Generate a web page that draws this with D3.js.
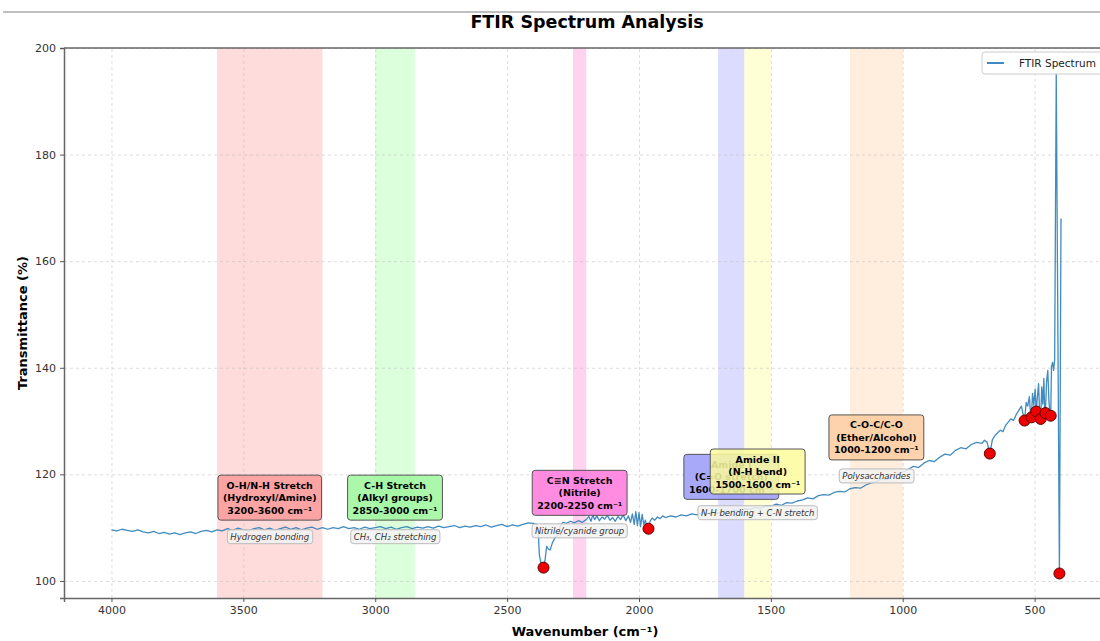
<!DOCTYPE html>
<html>
<head>
<meta charset="utf-8">
<script src="https://cdn.jsdelivr.net/npm/d3@7"></script>
<style>
  body { margin: 0; background: #fff; }
  svg { display: block; font-family: "DejaVu Sans", sans-serif; }
</style>
</head>
<body>
<div id="chart"></div>
<script>
// ---------- data ----------
const wavenumbers = [
  4000,3980,3960,3940,3920,3900,3880,3860,3840,3820,3800,3780,3760,3740,3720,3700,3680,3660,3640,3620,3600,
  3580,3560,3540,3520,3500,3480,3460,3440,3420,3400,3380,3360,3340,3320,3300,3280,3260,3240,3220,3200,
  3180,3160,3140,3120,3100,3080,3060,3040,3020,3000,2980,2960,2940,2920,2900,2880,2860,2840,2820,
  2800,2780,2760,2740,2720,2700,2680,2660,2640,2620,2600,2580,2560,2540,2520,2500,2480,2460,2440,2420,2400,
  2390,2382,2378,2372,2366,2362,2356,2350,2344,2337,2328,2318,2307,2298,2288,
  2275,2260,2245,2230,2215,2200,2190,2182,2175,2168,2160,2150,2140,2130,2120,2110,2100,2090,2080,2070,
  2060,2050,2040,2032,2025,2018,2012,2006,2000,1994,1988,1982,1976,1970,1964,1958,1950,1940,1930,1920,1910,1900,
  1880,1860,1840,1820,1800,1780,1760,1740,1720,1700,1680,1660,1640,1620,1600,1580,1560,1540,1520,1500,
  1480,1460,1440,1420,1400,1380,1360,1340,1320,1300,1280,1260,1240,1220,1200,1180,1160,1140,1120,1100,
  1080,1060,1040,1020,1000,980,960,940,920,900,880,860,840,820,800,780,760,740,720,700,
  690,680,670,660,650,640,630,620,610,600,590,580,570,560,550,545,538,532,526,520,515,512,508,503,498,494,
  490,485,481,477,473,469,465,462,459,455,450,446,442,439,436,432,428,424,418,406,400
];
const transmittance = [
  109.6,109.4,109.7,109.5,109.3,109.6,109.2,109.0,109.3,108.9,109.1,108.8,109.0,108.7,109.0,109.2,108.9,109.3,109.5,109.2,109.6,
  109.4,109.8,109.5,109.9,109.6,109.4,109.8,110.0,109.6,109.9,109.5,109.8,110.1,109.7,110.0,109.6,109.9,110.1,109.7,110.0,
  109.7,110.0,109.8,110.2,109.8,110.0,109.7,110.1,109.8,110.0,110.2,109.8,110.1,109.7,110.0,110.2,109.8,110.1,109.9,
  110.2,109.9,110.3,110.0,110.2,110.4,110.0,110.3,110.1,110.4,110.2,110.5,110.1,110.4,110.6,110.2,110.5,110.3,110.6,110.9,110.8,
  110.7,109.5,105.0,103.4,102.9,102.5,104.0,106.5,106.0,105.8,107.2,108.1,108.6,110.4,111.0,
  110.8,111.2,110.9,111.3,111.0,111.5,112.1,111.2,112.4,111.5,112.2,111.3,112.0,111.6,112.3,111.4,111.9,111.2,112.1,111.5,
  112.4,111.3,112.2,111.0,112.6,110.6,113.0,110.4,112.8,110.2,112.5,110.6,111.4,110.3,109.8,111.2,111.8,111.4,112.0,111.7,112.2,111.9,
  112.2,112.0,112.4,112.2,112.6,112.4,112.8,112.6,112.9,112.7,113.1,112.9,113.3,113.1,113.5,113.4,113.8,113.6,114.1,114.0,
  114.4,114.2,114.7,114.6,115.0,115.2,115.6,115.4,116.0,116.2,116.1,116.6,116.8,116.7,117.3,117.5,117.4,118.0,118.4,118.6,
  119.2,119.0,119.8,120.1,120.4,120.9,121.5,121.3,122.1,122.6,122.4,123.2,123.8,123.6,124.5,125.0,124.8,125.6,126.0,125.8,
  126.4,126.0,123.9,126.5,127.3,127.8,128.3,128.0,129.2,129.8,130.4,130.1,131.2,132.0,132.8,131.6,130.1,133.5,132.8,134.6,131.0,130.7,135.2,133.0,136.0,131.8,
  134.2,137.0,131.5,130.4,136.4,133.2,138.0,131.9,131.5,137.2,139.5,134.0,131.2,131.0,140.2,141.0,139.5,141.5,195.2,101.4,168.0
];
const peakWavenumbers = [2362, 1964, 670, 538, 512, 494, 477, 459, 439, 406];

const xTicks = [4000, 3500, 3000, 2500, 2000, 1500, 1000, 500];
const yTicks = [100, 120, 140, 160, 180, 200];

const groupNames = ["O-H/N-H Stretch", "C-H Stretch", "C≡N Stretch", "Amide I", "Amide II", "C-O-C/C-O"];
const groupTypes = ["(Hydroxyl/Amine)", "(Alkyl groups)", "(Nitrile)", "(C=O stretch)", "(N-H bend)", "(Ether/Alcohol)"];
const bandLow = [3200, 2850, 2200, 1600, 1500, 1000];
const bandHigh = [3600, 3000, 2250, 1700, 1600, 1200];
// Amide I note is hidden under Amide II's in the original, so it has none here
const groupNotes = ["Hydrogen bonding", "CH₃, CH₂ stretching", "Nitrile/cyanide group", null, "N-H bending + C-N stretch", "Polysaccharides"];
const labelLevels = [115.6, 115.6, 116.5, 119.5, 120.5, 126.9];   // transmittance where each label sits
const noteLevels = [108.3, 108.3, 109.4, 112.6, 112.8, 119.7];

// ---------- styles ----------
const bandColors = ["#ffdcdc", "#dcffdc", "#ffd2f0", "#dcdcff", "#ffffd6", "#ffeedd"];
const boxColors = ["#fb9a9a", "#9cf79c", "#ff78dc", "#9a9af8", "#fbfb9c", "#fccb9e"];

// ---------- setup ----------
const svgWidth = 1100;
const svgHeight = 641;
const margin = { top: 48, right: -9, bottom: 43, left: 64 };
const width = svgWidth - margin.left - margin.right;
const height = svgHeight - margin.top - margin.bottom;

const root = d3.select("#chart").append("svg")
  .attr("width", svgWidth)
  .attr("height", svgHeight);

// thin frame line at the very top of the screenshot
root.append("line")
  .attr("x1", 3).attr("x2", svgWidth).attr("y1", 12).attr("y2", 12)
  .attr("stroke", "#aaa").attr("stroke-width", 1.5);

const svg = root.append("g")
  .attr("transform", `translate(${margin.left},${margin.top})`);

root.append("defs").append("clipPath").attr("id", "plotClip")
  .append("rect").attr("width", width).attr("height", height);

const x = d3.scaleLinear().domain([4180, 218]).range([0, width]);
const y = d3.scaleLinear().domain([96.8, 200]).range([height, 0]);

const plot = svg.append("g").attr("clip-path", "url(#plotClip)");

// shaded bands
plot.selectAll(".band")
  .data(bandLow)
  .enter().append("rect")
  .attr("class", "band")
  .attr("x", (d, i) => x(bandHigh[i]))
  .attr("width", (d, i) => x(d) - x(bandHigh[i]))
  .attr("y", 0)
  .attr("height", height)
  .attr("fill", (d, i) => bandColors[i]);

// grid
plot.append("g")
  .attr("transform", `translate(0,${height})`)
  .call(d3.axisBottom(x).tickValues(xTicks).tickSize(-height).tickFormat(""))
  .call(g => g.select(".domain").remove())
  .call(g => g.selectAll("line").attr("stroke", "#bbb").attr("stroke-dasharray", "3,3").attr("stroke-opacity", 0.5));
plot.append("g")
  .call(d3.axisLeft(y).tickValues(yTicks).tickSize(-width).tickFormat(""))
  .call(g => g.select(".domain").remove())
  .call(g => g.selectAll("line").attr("stroke", "#bbb").attr("stroke-dasharray", "3,3").attr("stroke-opacity", 0.5));

// spectrum
const spectrum = wavenumbers.map((w, i) => [w, transmittance[i]]);
const line = d3.line().x(d => x(d[0])).y(d => y(d[1]));
plot.append("path")
  .datum(spectrum)
  .attr("d", line)
  .attr("fill", "none")
  .attr("stroke", "#1f77b4")
  .attr("stroke-opacity", 0.85)
  .attr("stroke-width", 1.3)
  .attr("stroke-linejoin", "round");

// peaks
const peaks = peakWavenumbers.map(w => [w, transmittance[wavenumbers.indexOf(w)]]);
plot.selectAll(".peak")
  .data(peaks)
  .enter().append("circle")
  .attr("class", "peak")
  .attr("cx", d => x(d[0]))
  .attr("cy", d => y(d[1]))
  .attr("r", 5.5)
  .attr("fill", "#ee0000")
  .attr("stroke", "#5a0000")
  .attr("stroke-width", 1);

// text boxes
function textBox(parent, cx, cy, lines, o) {
  const g = parent.append("g");
  const t = g.append("text")
    .attr("text-anchor", "middle")
    .attr("font-size", o.size)
    .attr("font-weight", o.weight || "normal")
    .attr("font-style", o.style || "normal")
    .attr("fill", o.color || "#000");
  lines.forEach((l, i) => {
    t.append("tspan")
      .attr("x", cx)
      .attr("y", cy + (i - (lines.length - 1) / 2) * o.lh)
      .attr("dy", "0.35em")
      .text(l);
  });
  const bb = t.node().getBBox();
  g.insert("rect", "text")
    .attr("x", bb.x - o.padX)
    .attr("y", bb.y - o.padY)
    .attr("width", bb.width + 2 * o.padX)
    .attr("height", bb.height + 2 * o.padY)
    .attr("rx", 3)
    .attr("fill", o.fill)
    .attr("fill-opacity", o.opacity)
    .attr("stroke", o.stroke)
    .attr("stroke-width", 1);
}

const notes = svg.append("g");
groupNotes.forEach((n, i) => {
  if (!n) return;
  const cx = x((bandLow[i] + bandHigh[i]) / 2);
  textBox(notes, cx, y(noteLevels[i]), [n], {
    size: 8.5, lh: 11, style: "italic", color: "#333",
    padX: 3, padY: 2, fill: "#f2f2f2", opacity: 0.85, stroke: "#bbb"
  });
});

const labels = svg.append("g");
groupNames.forEach((n, i) => {
  const cx = x((bandLow[i] + bandHigh[i]) / 2);
  textBox(labels, cx, y(labelLevels[i]),
    [n, groupTypes[i], `${bandLow[i]}-${bandHigh[i]} cm⁻¹`], {
      size: 9.5, lh: 12.5, weight: "bold",
      padX: 5, padY: 4.5, fill: boxColors[i], opacity: 0.85, stroke: "#555"
    });
});

// axes
const xAxis = svg.append("g")
  .attr("transform", `translate(0,${height})`)
  .call(d3.axisBottom(x).tickValues(xTicks).tickFormat(d3.format("d"))
    .tickSizeOuter(0).tickSize(4).tickPadding(4));
const yAxis = svg.append("g")
  .call(d3.axisLeft(y).tickValues(yTicks).tickFormat(d3.format("d"))
    .tickSizeOuter(0).tickSize(4).tickPadding(4));
[xAxis, yAxis].forEach(a => {
  a.select(".domain").attr("stroke", "#666").attr("stroke-width", 1.5);
  a.selectAll(".tick line").attr("stroke", "#555");
  a.selectAll(".tick text").attr("font-size", 11).attr("fill", "#333")
    .attr("font-family", "DejaVu Sans, sans-serif");
});
svg.append("line")
  .attr("x1", 0).attr("x2", width).attr("y1", 0).attr("y2", 0)
  .attr("stroke", "#666").attr("stroke-width", 1.5);

// legend
const legend = svg.append("g").attr("transform", `translate(${918},${4})`);
legend.append("rect")
  .attr("width", 128).attr("height", 22).attr("rx", 3)
  .attr("fill", "#fff").attr("fill-opacity", 0.85).attr("stroke", "#ccc");
legend.append("line")
  .attr("x1", 5).attr("x2", 22).attr("y1", 11).attr("y2", 11)
  .attr("stroke", "#1f77b4").attr("stroke-opacity", 0.85).attr("stroke-width", 2);
legend.append("text")
  .attr("x", 37).attr("y", 11).attr("dy", "0.35em")
  .attr("font-size", 10.5).attr("fill", "#222")
  .text("FTIR Spectrum");

// titles
root.append("text")
  .attr("x", 587).attr("y", 22).attr("dy", "0.35em")
  .attr("text-anchor", "middle")
  .attr("font-size", 17.5).attr("font-weight", "bold")
  .text("FTIR Spectrum Analysis");
root.append("text")
  .attr("x", 585).attr("y", 631).attr("dy", "0.35em")
  .attr("text-anchor", "middle")
  .attr("font-size", 13).attr("font-weight", "bold")
  .text("Wavenumber (cm⁻¹)");
root.append("text")
  .attr("transform", `translate(22,${323}) rotate(-90)`)
  .attr("dy", "0.35em")
  .attr("text-anchor", "middle")
  .attr("font-size", 13).attr("font-weight", "bold")
  .text("Transmittance (%)");
</script>
</body>
</html>
